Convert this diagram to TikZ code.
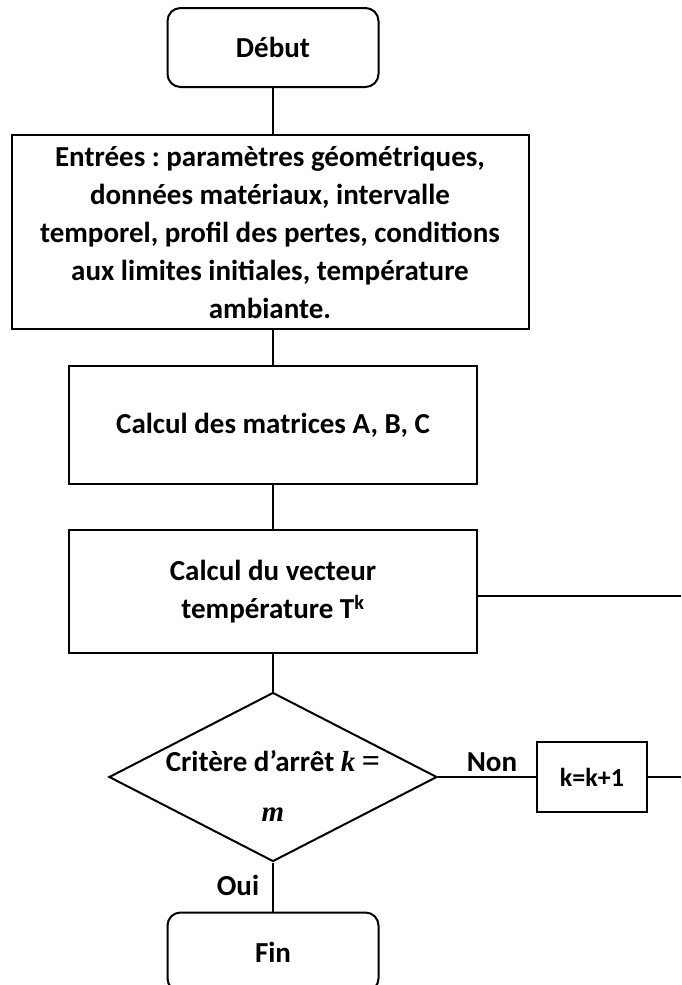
\documentclass[tikz,border=0pt]{standalone}
\usepackage{fontspec}
\setmainfont{Carlito}
\newfontfamily\mathlike{Liberation Serif}
\frenchspacing
\usetikzlibrary{shapes.geometric}
\begin{document}
\begin{tikzpicture}[x=1pt,y=-1pt,
  line width=2pt,
  txt/.style={font=\fontsize{29}{38}\selectfont\bfseries, inner sep=0pt},
  term/.style={txt, draw, rounded corners=13pt, minimum width=211pt, minimum height=79pt},
  proc/.style={txt, draw, align=center},
  decis/.style={draw, shape=diamond, minimum width=328pt, minimum height=169pt, inner sep=0pt},
  link/.style={line width=2pt}
]
\useasboundingbox (0,0) rectangle (681,985);
\clip (0,0) rectangle (681,985);

\node[term] (debut) at (273,47.5) {Début};
\node[proc, minimum width=517pt, minimum height=194pt] (entrees) at (270,232)
  {Entrées : paramètres géométriques,\\ données matériaux, intervalle\\ temporel, profil des pertes, conditions\\ aux limites initiales, température\\ ambiante.};
\node[proc, minimum width=408pt, minimum height=118pt] (calcA) at (273,425) {Calcul des matrices A, B, C};
\node[proc, minimum width=408pt, minimum height=123pt] (calcT) at (273,591.5) {Calcul du vecteur\\ température T\textsuperscript{k}};
\node[decis] (crit) at (273,777) {};
\node[txt, align=center] (crittext) at (273,786) {Critère d’arrêt {\mathlike\bfseries\itshape k} {\mathlike\fontsize{32}{38}\selectfont =}\\[12pt] {\mathlike\bfseries\itshape m}};
\node[txt, draw, minimum width=110pt, minimum height=70pt, font=\fontsize{26}{30}\selectfont\bfseries] (kbox) at (592,777) {k=k+1};
\node[term] (fin) at (273,952) {Fin};

\node[txt] (non) at (492,762) {Non};
\node[txt] (oui) at (238,885) {Oui};

\coordinate (r1) at (681,596);
\coordinate (r2) at (681,777);

\draw[link] (debut.south) -- (debut.south |- entrees.north);
\draw[link] (debut.south |- entrees.south) -- (calcA.north);
\draw[link] (calcA.south) -- (calcT.north);
\draw[link] (calcT.south) -- (crit.north);
\draw[link] (crit.east) -- (kbox.west);
\draw[link] (crit.south) -- (fin.north);
\draw[link] (calcT.east |- r1) -- (r1);
\draw[link] (kbox.east) -- (r2);
\end{tikzpicture}
\end{document}
